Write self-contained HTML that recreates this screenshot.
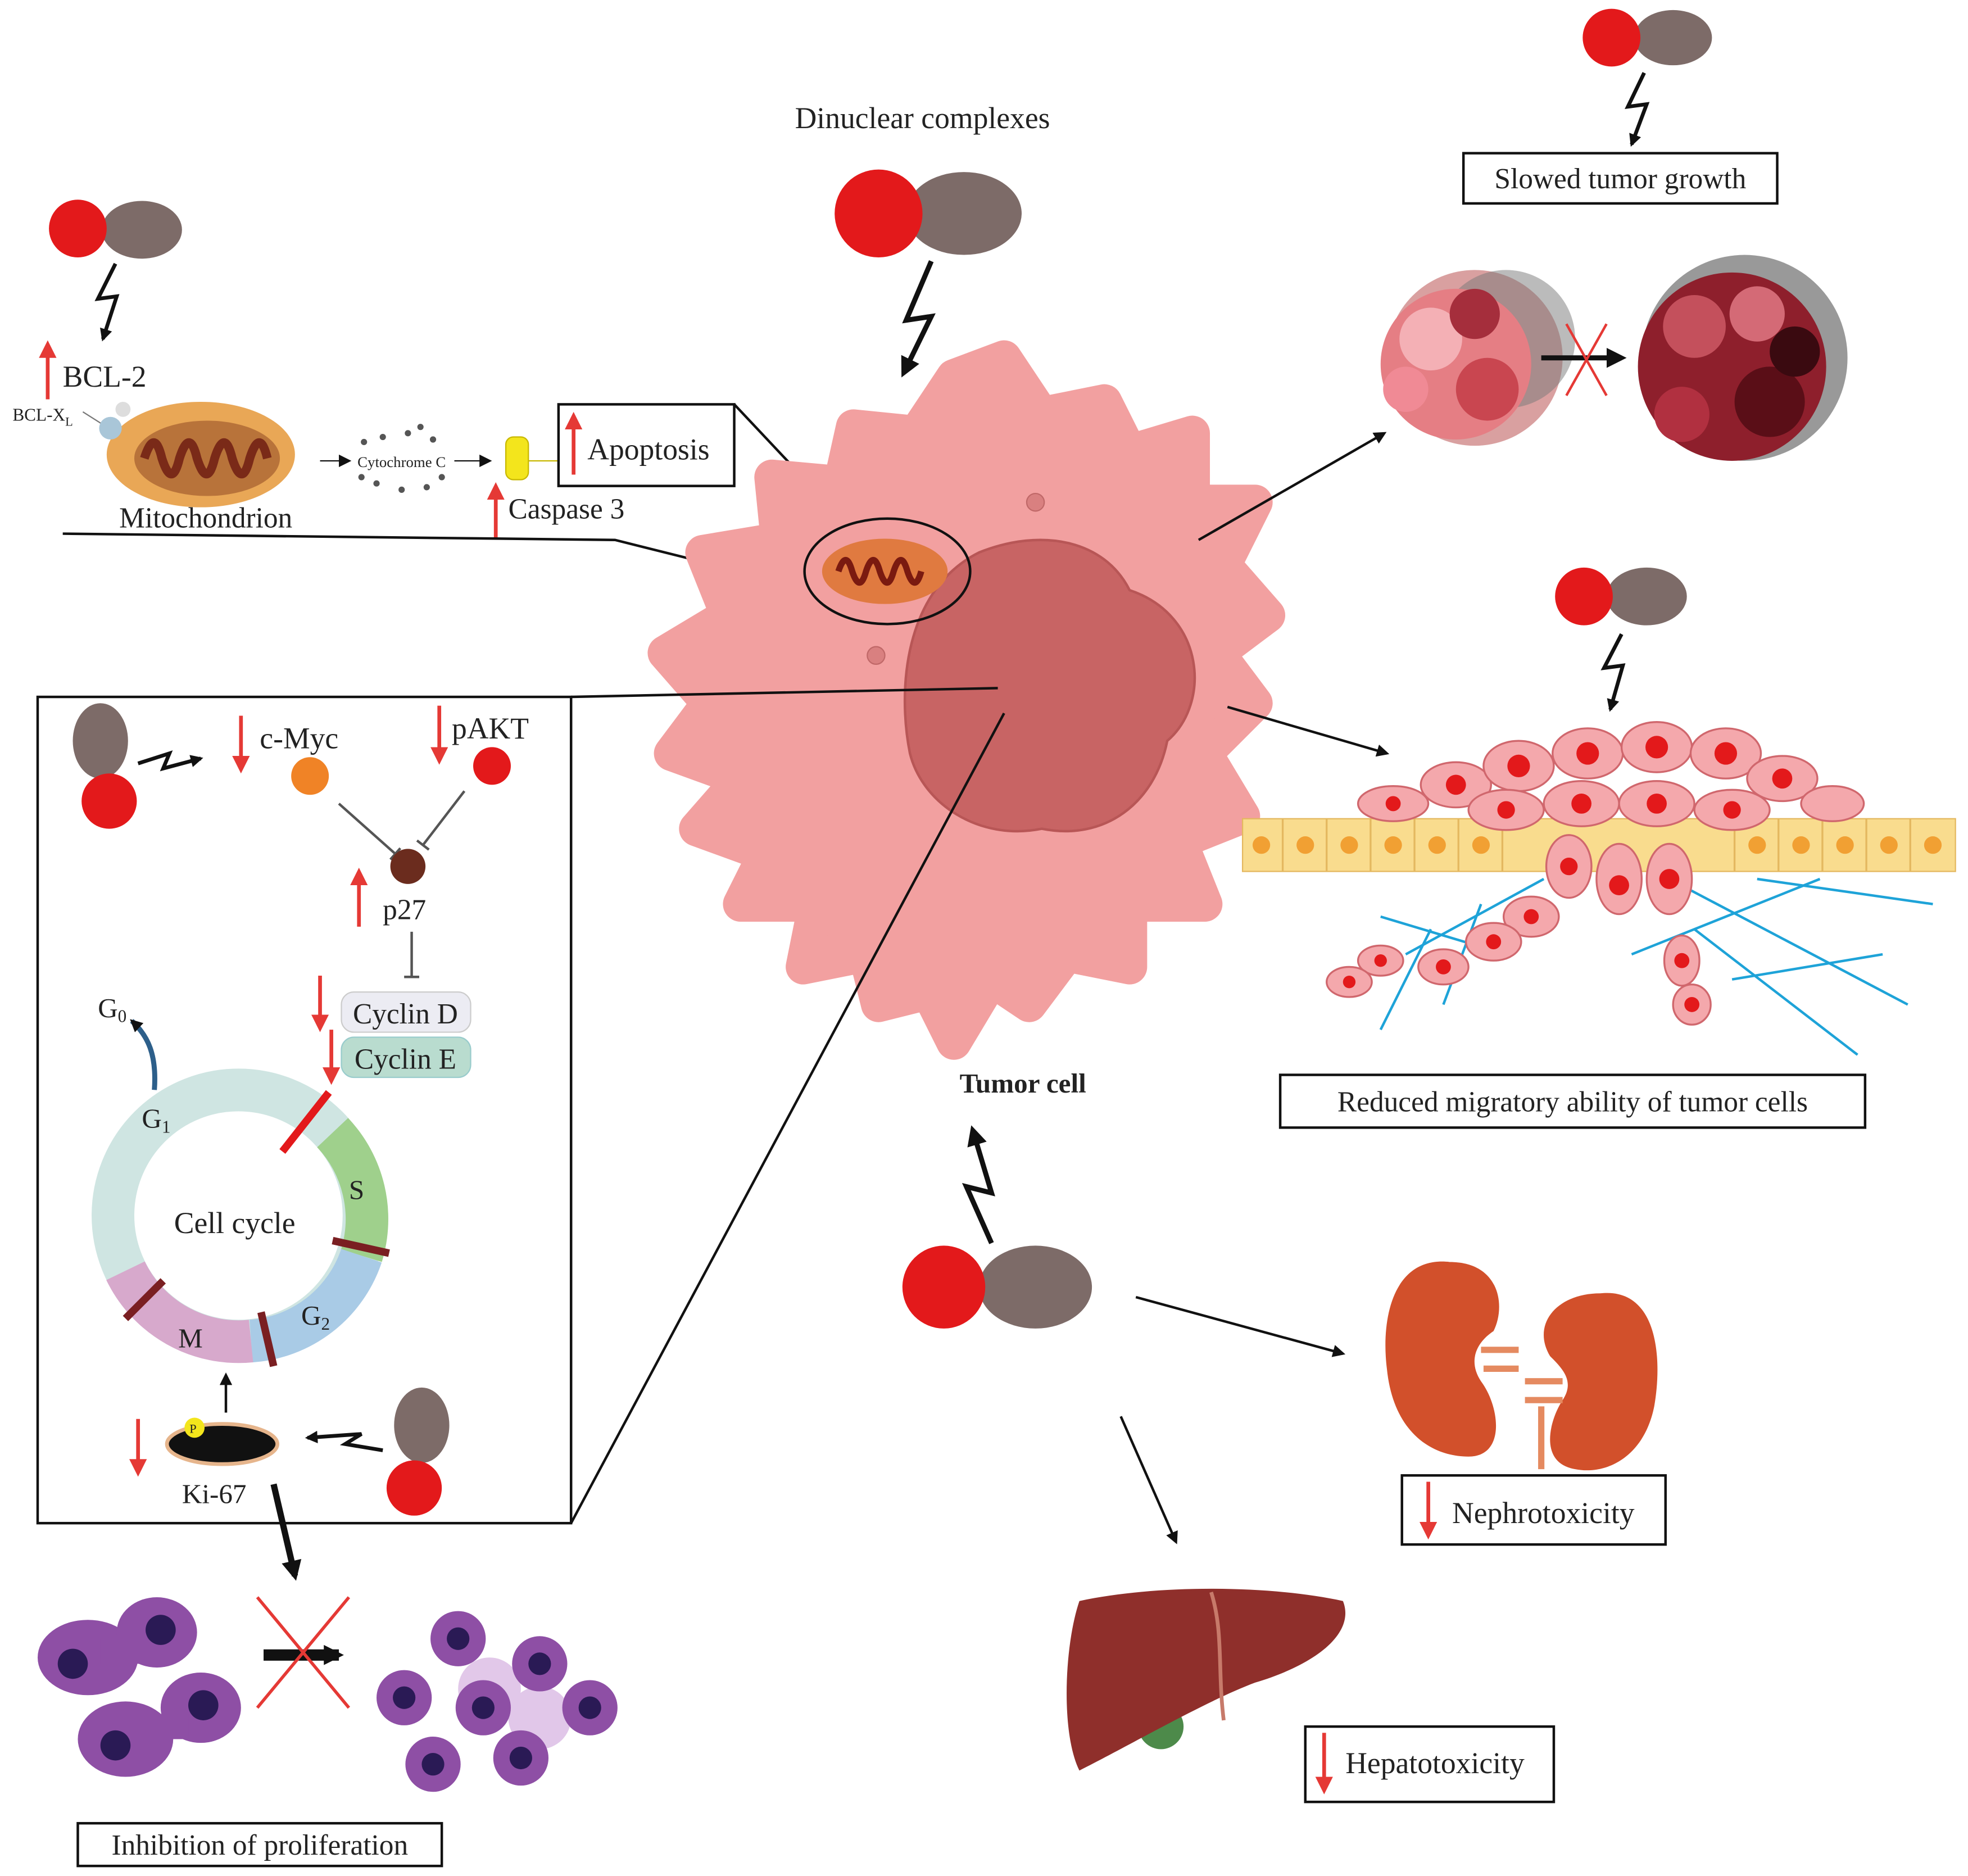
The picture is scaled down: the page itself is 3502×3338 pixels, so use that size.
<!DOCTYPE html>
<html><head><meta charset="utf-8"><style>
html,body{margin:0;padding:0;background:#fff}
svg{display:block}
text{font-family:"Liberation Serif",serif;fill:#222}
</style></head><body>
<svg width="3502" height="3338" viewBox="0 0 1568 1494" preserveAspectRatio="none" xmlns="http://www.w3.org/2000/svg">
<defs>
<marker id="ah" markerWidth="10" markerHeight="10" refX="8" refY="5" orient="auto" markerUnits="userSpaceOnUse"><path d="M0,0 L10,5 L0,10 z" fill="#111"/></marker>
<marker id="ahb" markerWidth="16" markerHeight="16" refX="12" refY="8" orient="auto" markerUnits="userSpaceOnUse"><path d="M0,0 L16,8 L0,16 z" fill="#111"/></marker>
<marker id="ahr" markerWidth="14" markerHeight="14" refX="10" refY="7" orient="auto" markerUnits="userSpaceOnUse"><path d="M0,0 L14,7 L0,14 z" fill="#e53935"/></marker>
<marker id="tb" markerWidth="12" markerHeight="12" refX="6" refY="6" orient="auto" markerUnits="userSpaceOnUse"><path d="M6,0 L6,12" stroke="#555" stroke-width="2"/></marker>
</defs>
<rect width="1568" height="1494" fill="#fff"/>

<text x="735" y="102" font-size="24" text-anchor="middle">Dinuclear complexes</text>
<ellipse cx="768" cy="170" rx="46" ry="33" fill="#7d6b68"/>
<circle cx="700" cy="170" r="35" fill="#e3191b"/>
<polyline points="742,208 722,255 742,252 720,297" fill="none" stroke="#111" stroke-width="4" marker-end="url(#ahb)"/>

<ellipse cx="1333" cy="30" rx="31" ry="22" fill="#7d6b68"/>
<circle cx="1284" cy="30" r="23" fill="#e3191b"/>
<polyline points="1310,58 1297,85 1312,83 1300,115" fill="none" stroke="#111" stroke-width="3" marker-end="url(#ah)"/>
<rect x="1166" y="122" width="250" height="40" fill="#fff" stroke="#111" stroke-width="2"/>
<text x="1291" y="150" font-size="23" text-anchor="middle">Slowed tumor growth</text>
<g>
<circle cx="1175" cy="285" r="70" fill="#d9a0a0"/><circle cx="1200" cy="270" r="55" fill="#777" opacity=".5"/>
<circle cx="1160" cy="290" r="60" fill="#e57e84"/><circle cx="1140" cy="270" r="25" fill="#f4b0b5"/><circle cx="1185" cy="310" r="25" fill="#c94650"/><circle cx="1175" cy="250" r="20" fill="#a52e3c"/><circle cx="1120" cy="310" r="18" fill="#f08a95"/>
<circle cx="1390" cy="285" r="82" fill="#555" opacity=".6"/>
<circle cx="1380" cy="292" r="75" fill="#8e1f2c"/><circle cx="1350" cy="260" r="25" fill="#c4505c"/><circle cx="1410" cy="320" r="28" fill="#5a0e17"/><circle cx="1400" cy="250" r="22" fill="#d46a76"/><circle cx="1340" cy="330" r="22" fill="#b13040"/><circle cx="1430" cy="280" r="20" fill="#3a0a10"/>
</g>
<line x1="1228" y1="285" x2="1292" y2="285" stroke="#111" stroke-width="4" marker-end="url(#ahb)"/>
<line x1="1248" y1="258" x2="1280" y2="315" stroke="#e53935" stroke-width="2"/><line x1="1280" y1="258" x2="1248" y2="315" stroke="#e53935" stroke-width="2"/>

<ellipse cx="113" cy="183" rx="32" ry="23" fill="#7d6b68"/>
<circle cx="62" cy="182" r="23" fill="#e3191b"/>
<polyline points="92,210 78,238 93,236 82,270" fill="none" stroke="#111" stroke-width="3" marker-end="url(#ah)"/>
<line x1="38" y1="318" x2="38" y2="275" stroke="#e53935" stroke-width="3" marker-end="url(#ahr)"/>
<text x="50" y="308" font-size="24">BCL-2</text>
<text x="10" y="335" font-size="14">BCL-X<tspan font-size="10" dy="4">L</tspan></text>
<line x1="66" y1="328" x2="85" y2="340" stroke="#777"/>
<ellipse cx="160" cy="362" rx="75" ry="42" fill="#e9a756"/>
<ellipse cx="165" cy="365" rx="58" ry="30" fill="#b8733a"/>
<path d="M115,365 q8,-25 14,0 q8,25 14,0 q8,-25 14,0 q8,25 14,0 q8,-25 14,0 q8,25 14,0 q8,-25 14,0" fill="none" stroke="#7a2a18" stroke-width="7"/>
<circle cx="88" cy="341" r="9" fill="#a9c6d8"/><circle cx="98" cy="326" r="6" fill="#ddd"/>
<text x="95" y="420" font-size="23">Mitochondrion</text>
<line x1="255" y1="367" x2="278" y2="367" stroke="#111" marker-end="url(#ah)"/>
<text x="320" y="372" font-size="12" text-anchor="middle">Cytochrome C</text>
<g fill="#555"><circle cx="290" cy="352" r="2.5"/><circle cx="305" cy="348" r="2.5"/><circle cx="325" cy="345" r="2.5"/><circle cx="345" cy="350" r="2.5"/><circle cx="300" cy="385" r="2.5"/><circle cx="320" cy="390" r="2.5"/><circle cx="340" cy="388" r="2.5"/><circle cx="352" cy="380" r="2.5"/><circle cx="288" cy="380" r="2.5"/><circle cx="335" cy="340" r="2.5"/></g>
<line x1="362" y1="367" x2="390" y2="367" stroke="#111" marker-end="url(#ah)"/>
<rect x="403" y="348" width="18" height="34" rx="6" fill="#f3e51c" stroke="#c8b800"/>
<line x1="421" y1="367" x2="445" y2="367" stroke="#c8b800"/>
<rect x="445" y="322" width="140" height="65" fill="#fff" stroke="#111" stroke-width="2"/>
<line x1="457" y1="378" x2="457" y2="332" stroke="#e53935" stroke-width="3" marker-end="url(#ahr)"/>
<text x="468" y="366" font-size="24">Apoptosis</text>
<line x1="395" y1="428" x2="395" y2="388" stroke="#e53935" stroke-width="3" marker-end="url(#ahr)"/>
<text x="405" y="413" font-size="23">Caspase 3</text>
<polyline points="50,425 490,430 650,470" fill="none" stroke="#111" stroke-width="2"/>
<line x1="585" y1="322" x2="682" y2="425" stroke="#111" stroke-width="2"/>

<polygon points="800,285 830,330 880,320 900,360 950,345 950,400 1000,400 975,450 1010,490 970,520 1000,560 960,600 990,650 940,670 960,720 900,720 900,770 850,760 820,800 790,780 760,830 740,790 700,800 690,760 640,770 650,720 590,720 610,680 555,660 590,620 535,600 565,560 530,520 580,490 560,440 620,430 615,380 670,385 680,340 730,345 760,300" fill="#f2a0a0" stroke="#f2a0a0" stroke-width="28" stroke-linejoin="round"/>
<path d="M780,440 C830,420 880,430 900,470 C960,490 965,560 930,590 C920,640 880,670 830,660 C780,670 735,640 725,600 C715,550 720,470 780,440 Z" fill="#c86464" stroke="#b85656" stroke-width="2"/>
<circle cx="825" cy="400" r="7" fill="#d98080" stroke="#c06868"/>
<circle cx="698" cy="522" r="7" fill="#d98080" stroke="#c06868"/>
<ellipse cx="707" cy="455" rx="66" ry="42" fill="none" stroke="#111" stroke-width="2"/>
<ellipse cx="705" cy="455" rx="50" ry="26" fill="#e07a40"/>
<path d="M668,455 q6,-18 11,0 q6,18 11,0 q6,-18 11,0 q6,18 11,0 q6,-18 11,0 q6,18 11,0" fill="none" stroke="#7a1a10" stroke-width="5"/>
<text x="815" y="870" font-size="22" font-weight="bold" text-anchor="middle">Tumor cell</text>
<line x1="955" y1="430" x2="1103" y2="345" stroke="#111" stroke-width="2" marker-end="url(#ah)"/>
<line x1="978" y1="563" x2="1105" y2="600" stroke="#111" stroke-width="2" marker-end="url(#ah)"/>

<ellipse cx="1312" cy="475" rx="32" ry="23" fill="#7d6b68"/>
<circle cx="1262" cy="475" r="23" fill="#e3191b"/>
<polyline points="1292,505 1278,532 1293,530 1283,565" fill="none" stroke="#111" stroke-width="3" marker-end="url(#ah)"/>
<rect x="990" y="652" width="568" height="42" fill="#f9dc8e" stroke="#e4b860"/>
<g stroke="#e4b860" stroke-width="1.5"><path d="M1022,652v42M1057,652v42M1092,652v42M1127,652v42M1162,652v42M1197,652v42M1382,652v42M1417,652v42M1452,652v42M1487,652v42M1522,652v42"/></g>
<g fill="#f1a033"><circle cx="1005" cy="673" r="7"/><circle cx="1040" cy="673" r="7"/><circle cx="1075" cy="673" r="7"/><circle cx="1110" cy="673" r="7"/><circle cx="1145" cy="673" r="7"/><circle cx="1180" cy="673" r="7"/><circle cx="1400" cy="673" r="7"/><circle cx="1435" cy="673" r="7"/><circle cx="1470" cy="673" r="7"/><circle cx="1505" cy="673" r="7"/><circle cx="1540" cy="673" r="7"/></g>
<g stroke="#1ea3d8" stroke-width="2" fill="none"><path d="M1100,730 L1200,760 M1120,760 L1230,700 M1150,800 L1180,720 M1100,820 L1140,740 M1330,700 L1520,800 M1350,740 L1480,840 M1400,700 L1540,720 M1300,760 L1450,700 M1380,780 L1500,760"/></g>
<g fill="#f4a8ac" stroke="#d0676d" stroke-width="1.5">
<ellipse cx="1110" cy="640" rx="28" ry="14"/><ellipse cx="1160" cy="625" rx="28" ry="18"/><ellipse cx="1210" cy="610" rx="28" ry="20"/><ellipse cx="1265" cy="600" rx="28" ry="20"/><ellipse cx="1320" cy="595" rx="28" ry="20"/><ellipse cx="1375" cy="600" rx="28" ry="20"/><ellipse cx="1420" cy="620" rx="28" ry="18"/><ellipse cx="1460" cy="640" rx="25" ry="14"/>
<ellipse cx="1200" cy="645" rx="30" ry="16"/><ellipse cx="1260" cy="640" rx="30" ry="18"/><ellipse cx="1320" cy="640" rx="30" ry="18"/><ellipse cx="1380" cy="645" rx="30" ry="16"/>
<ellipse cx="1250" cy="690" rx="18" ry="25"/><ellipse cx="1290" cy="700" rx="18" ry="28"/><ellipse cx="1330" cy="700" rx="18" ry="28"/><ellipse cx="1220" cy="730" rx="22" ry="16"/><ellipse cx="1190" cy="750" rx="22" ry="15"/><ellipse cx="1150" cy="770" rx="20" ry="14"/><ellipse cx="1100" cy="765" rx="18" ry="12"/><ellipse cx="1075" cy="782" rx="18" ry="12"/><ellipse cx="1340" cy="765" rx="14" ry="20"/><ellipse cx="1348" cy="800" rx="15" ry="16"/>
</g>
<g fill="#e3191b"><circle cx="1110" cy="640" r="6"/><circle cx="1160" cy="625" r="8"/><circle cx="1210" cy="610" r="9"/><circle cx="1265" cy="600" r="9"/><circle cx="1320" cy="595" r="9"/><circle cx="1375" cy="600" r="9"/><circle cx="1420" cy="620" r="8"/><circle cx="1200" cy="645" r="7"/><circle cx="1260" cy="640" r="8"/><circle cx="1320" cy="640" r="8"/><circle cx="1380" cy="645" r="7"/><circle cx="1250" cy="690" r="7"/><circle cx="1290" cy="705" r="8"/><circle cx="1330" cy="700" r="8"/><circle cx="1220" cy="730" r="6"/><circle cx="1190" cy="750" r="6"/><circle cx="1150" cy="770" r="6"/><circle cx="1100" cy="765" r="5"/><circle cx="1075" cy="782" r="5"/><circle cx="1340" cy="765" r="6"/><circle cx="1348" cy="800" r="6"/></g>
<rect x="1020" y="856" width="466" height="42" fill="#fff" stroke="#111" stroke-width="2"/>
<text x="1253" y="885" font-size="23" text-anchor="middle">Reduced migratory ability of tumor cells</text>

<ellipse cx="825" cy="1025" rx="45" ry="33" fill="#7d6b68"/>
<circle cx="752" cy="1025" r="33" fill="#e3191b"/>
<polyline points="790,990 770,945 790,950 775,900" fill="none" stroke="#111" stroke-width="4" marker-end="url(#ahb)"/>
<line x1="905" y1="1033" x2="1070" y2="1078" stroke="#111" stroke-width="2" marker-end="url(#ah)"/>
<line x1="893" y1="1128" x2="937" y2="1228" stroke="#111" stroke-width="2" marker-end="url(#ah)"/>
<path d="M1155,1005 C1110,1000 1100,1050 1105,1090 C1110,1140 1140,1160 1170,1160 C1200,1160 1195,1120 1180,1100 C1170,1085 1175,1070 1190,1060 C1200,1040 1195,1005 1155,1005 Z" fill="#d2502b"/>
<path d="M1275,1030 C1320,1025 1325,1080 1318,1120 C1310,1160 1280,1175 1255,1170 C1225,1165 1235,1130 1245,1115 C1255,1100 1245,1090 1235,1080 C1220,1055 1240,1030 1275,1030 Z" fill="#d2502b"/>
<path d="M1180,1075 h30 M1182,1090 h28 M1215,1100 h30 M1215,1115 h30 M1228,1120 v50" stroke="#e58a60" stroke-width="5" fill="none"/>
<rect x="1117" y="1175" width="210" height="55" fill="#fff" stroke="#111" stroke-width="2"/>
<line x1="1138" y1="1180" x2="1138" y2="1222" stroke="#e53935" stroke-width="3" marker-end="url(#ahr)"/>
<text x="1157" y="1213" font-size="24">Nephrotoxicity</text>
<circle cx="925" cy="1375" r="18" fill="#4d8a4a"/>
<path d="M860,1275 C920,1262 1010,1262 1070,1275 C1080,1300 1050,1325 1000,1340 C960,1355 900,1390 860,1410 C845,1380 848,1310 860,1275 Z" fill="#8f2f2b"/>
<path d="M965,1268 C975,1300 970,1330 975,1370" stroke="#c77a6a" stroke-width="3" fill="none"/>
<rect x="1040" y="1375" width="198" height="60" fill="#fff" stroke="#111" stroke-width="2"/>
<line x1="1055" y1="1380" x2="1055" y2="1425" stroke="#e53935" stroke-width="3" marker-end="url(#ahr)"/>
<text x="1072" y="1412" font-size="24">Hepatotoxicity</text>

<rect x="30" y="555" width="425" height="658" fill="#fff" stroke="#111" stroke-width="2"/>
<line x1="455" y1="555" x2="795" y2="548" stroke="#111" stroke-width="2"/>
<line x1="455" y1="1213" x2="800" y2="568" stroke="#111" stroke-width="2"/>
<ellipse cx="80" cy="590" rx="22" ry="30" fill="#7d6b68"/>
<circle cx="87" cy="638" r="22" fill="#e3191b"/>
<polyline points="110,608 135,600 130,612 160,604" fill="none" stroke="#111" stroke-width="3" marker-end="url(#ah)"/>
<line x1="192" y1="570" x2="192" y2="612" stroke="#e53935" stroke-width="3" marker-end="url(#ahr)"/>
<text x="207" y="596" font-size="24">c-Myc</text>
<circle cx="247" cy="618" r="15" fill="#f08326"/>
<line x1="350" y1="562" x2="350" y2="605" stroke="#e53935" stroke-width="3" marker-end="url(#ahr)"/>
<text x="360" y="588" font-size="24">pAKT</text>
<circle cx="392" cy="610" r="15" fill="#e3191b"/>
<line x1="270" y1="640" x2="315" y2="680" stroke="#555" stroke-width="2" marker-end="url(#tb)"/>
<line x1="370" y1="630" x2="337" y2="673" stroke="#555" stroke-width="2" marker-end="url(#tb)"/>
<circle cx="325" cy="690" r="14" fill="#6b2c1e"/>
<line x1="286" y1="738" x2="286" y2="695" stroke="#e53935" stroke-width="3" marker-end="url(#ahr)"/>
<text x="305" y="732" font-size="23">p27</text>
<line x1="328" y1="742" x2="328" y2="778" stroke="#555" stroke-width="2" marker-end="url(#tb)"/>
<rect x="272" y="790" width="103" height="32" rx="10" fill="#ececf3" stroke="#ccc"/>
<text x="323" y="815" font-size="23" text-anchor="middle">Cyclin D</text>
<rect x="272" y="826" width="103" height="32" rx="10" fill="#b9dccf" stroke="#9cc"/>
<text x="323" y="851" font-size="23" text-anchor="middle">Cyclin E</text>
<line x1="255" y1="777" x2="255" y2="818" stroke="#e53935" stroke-width="3" marker-end="url(#ahr)"/>
<line x1="264" y1="820" x2="264" y2="860" stroke="#e53935" stroke-width="3" marker-end="url(#ahr)"/>
<circle cx="190" cy="968" r="100" fill="none" stroke="#cfe5e2" stroke-width="34"/>
<path d="M265,902 A100,100 0 0 1 288,1000" fill="none" stroke="#9fd08c" stroke-width="34"/>
<path d="M288,1000 A100,100 0 0 1 200,1068" fill="none" stroke="#a9cbe6" stroke-width="34"/>
<path d="M200,1068 A100,100 0 0 1 100,1012" fill="none" stroke="#d7a9cc" stroke-width="34"/>
<line x1="225" y1="917" x2="262" y2="870" stroke="#e3191b" stroke-width="6"/>
<line x1="265" y1="988" x2="310" y2="998" stroke="#7a1f22" stroke-width="6"/>
<line x1="208" y1="1045" x2="218" y2="1088" stroke="#7a1f22" stroke-width="6"/>
<line x1="100" y1="1050" x2="130" y2="1020" stroke="#7a1f22" stroke-width="6"/>
<text x="187" y="982" font-size="24" text-anchor="middle">Cell cycle</text>
<text x="113" y="898" font-size="22">G<tspan font-size="14" dy="4">1</tspan></text>
<text x="278" y="955" font-size="22">S</text>
<text x="240" y="1055" font-size="22">G<tspan font-size="14" dy="4">2</tspan></text>
<text x="142" y="1073" font-size="22">M</text>
<text x="78" y="810" font-size="22">G<tspan font-size="14" dy="4">0</tspan></text>
<path d="M123,868 C125,840 118,825 105,813" fill="none" stroke="#2d5f8a" stroke-width="4" marker-end="url(#ah)"/>
<line x1="180" y1="1125" x2="180" y2="1095" stroke="#111" stroke-width="2" marker-end="url(#ah)"/>
<ellipse cx="177" cy="1150" rx="44" ry="16" fill="#111" stroke="#e6b58c" stroke-width="3"/>
<circle cx="155" cy="1137" r="8" fill="#f3e51c"/><text x="151" y="1141" font-size="10">P</text>
<line x1="110" y1="1130" x2="110" y2="1172" stroke="#e53935" stroke-width="3" marker-end="url(#ahr)"/>
<text x="145" y="1197" font-size="22">Ki-67</text>
<ellipse cx="336" cy="1135" rx="22" ry="30" fill="#7d6b68"/>
<circle cx="330" cy="1185" r="22" fill="#e3191b"/>
<polyline points="305,1155 275,1150 288,1142 245,1145" fill="none" stroke="#111" stroke-width="3" marker-end="url(#ah)"/>
<line x1="218" y1="1182" x2="235" y2="1255" stroke="#111" stroke-width="5" marker-end="url(#ahb)"/>

<g fill="#8e4fa5"><ellipse cx="70" cy="1320" rx="40" ry="30"/><ellipse cx="125" cy="1300" rx="32" ry="28"/><rect x="80" y="1305" width="40" height="20"/>
<ellipse cx="100" cy="1385" rx="38" ry="30"/><ellipse cx="160" cy="1360" rx="32" ry="28"/><rect x="110" y="1365" width="40" height="20"/></g>
<g fill="#2a1a55"><circle cx="58" cy="1325" r="12"/><circle cx="128" cy="1298" r="12"/><circle cx="92" cy="1390" r="12"/><circle cx="162" cy="1358" r="12"/></g>
<g fill="#d5b0e0" opacity=".7"><circle cx="390" cy="1345" r="25"/><circle cx="430" cy="1368" r="25"/></g>
<g fill="#8e4fa5"><circle cx="365" cy="1305" r="22"/><circle cx="430" cy="1325" r="22"/><circle cx="322" cy="1352" r="22"/><circle cx="385" cy="1360" r="22"/><circle cx="470" cy="1360" r="22"/><circle cx="345" cy="1405" r="22"/><circle cx="415" cy="1400" r="22"/></g>
<g fill="#2a1a55"><circle cx="365" cy="1305" r="9"/><circle cx="430" cy="1325" r="9"/><circle cx="322" cy="1352" r="9"/><circle cx="385" cy="1360" r="9"/><circle cx="470" cy="1360" r="9"/><circle cx="345" cy="1405" r="9"/><circle cx="415" cy="1400" r="9"/></g>
<line x1="210" y1="1318" x2="270" y2="1318" stroke="#111" stroke-width="9" marker-end="url(#ahb)"/>
<line x1="205" y1="1272" x2="278" y2="1360" stroke="#e53935" stroke-width="2.5"/><line x1="278" y1="1272" x2="205" y2="1360" stroke="#e53935" stroke-width="2.5"/>
<rect x="62" y="1452" width="290" height="34" fill="#fff" stroke="#111" stroke-width="2"/>
<text x="207" y="1477" font-size="23" text-anchor="middle">Inhibition of proliferation</text>
</svg>
</body></html>
